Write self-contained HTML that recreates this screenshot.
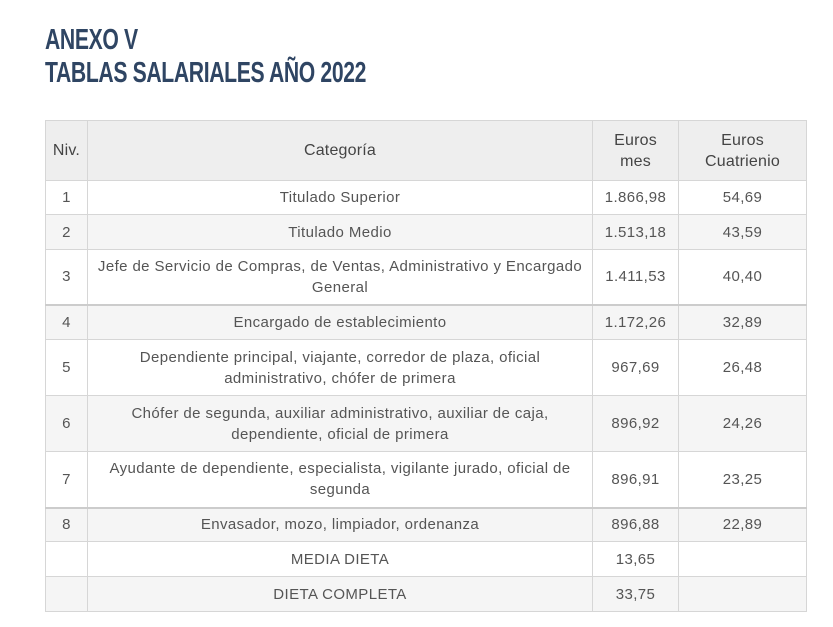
<!DOCTYPE html>
<html><head><meta charset="utf-8"><style>
html,body{margin:0;padding:0;background:#fff;width:833px;height:627px;overflow:hidden}
h1{position:absolute;left:45px;top:24px;margin:0;font-family:"Liberation Sans",sans-serif;font-weight:bold;font-size:29px;line-height:33px;color:#2f4563;letter-spacing:-0.5px;transform:scaleX(0.73);transform-origin:0 0;white-space:nowrap}
table{position:absolute;left:45px;top:120px;border-collapse:collapse;table-layout:fixed;width:761px;font-family:"Liberation Sans",sans-serif;font-size:15px;letter-spacing:0.4px;color:#555}
td,th{border:1px solid #d6d6d6;text-align:center;vertical-align:middle;padding:0 10px;line-height:21px}
th{font-weight:normal;font-size:16px;color:#444;background:#eee;letter-spacing:0.2px}
tr.g td{background:#f5f5f5}
tr.t td{border-top:2px solid #ccc}
td.n{padding:0}
</style></head><body>
<h1>ANEXO V<br>TABLAS SALARIALES AÑO 2022</h1>
<table>
<colgroup><col style="width:42px"><col style="width:505px"><col style="width:86px"><col style="width:128px"></colgroup>
<tr style="height:60px"><th style="padding:0">Niv.</th><th>Categoría</th><th style="padding:0">Euros<br>mes</th><th style="padding:0">Euros<br>Cuatrienio</th></tr>
<tr style="height:34px"><td class="n">1</td><td>Titulado Superior</td><td class="n">1.866,98</td><td>54,69</td></tr>
<tr class="g" style="height:35px"><td class="n">2</td><td>Titulado Medio</td><td class="n">1.513,18</td><td>43,59</td></tr>
<tr style="height:55px"><td class="n">3</td><td style="padding:0"><span style="white-space:nowrap">Jefe de Servicio de Compras, de Ventas, Administrativo y Encargado</span><br>General</td><td class="n">1.411,53</td><td>40,40</td></tr>
<tr class="g t" style="height:35px"><td class="n">4</td><td>Encargado de establecimiento</td><td class="n">1.172,26</td><td>32,89</td></tr>
<tr style="height:56px"><td class="n">5</td><td>Dependiente principal, viajante, corredor de plaza, oficial administrativo, chófer de primera</td><td class="n">967,69</td><td>26,48</td></tr>
<tr class="g" style="height:56px"><td class="n">6</td><td>Chófer de segunda, auxiliar administrativo, auxiliar de caja, dependiente, oficial de primera</td><td class="n">896,92</td><td>24,26</td></tr>
<tr style="height:56px"><td class="n">7</td><td>Ayudante de dependiente, especialista, vigilante jurado, oficial de segunda</td><td class="n">896,91</td><td>23,25</td></tr>
<tr class="g t" style="height:34px"><td class="n">8</td><td>Envasador, mozo, limpiador, ordenanza</td><td class="n">896,88</td><td>22,89</td></tr>
<tr style="height:35px"><td></td><td>MEDIA DIETA</td><td class="n">13,65</td><td></td></tr>
<tr class="g" style="height:35px"><td></td><td>DIETA COMPLETA</td><td class="n">33,75</td><td></td></tr>
</table>
</body></html>
